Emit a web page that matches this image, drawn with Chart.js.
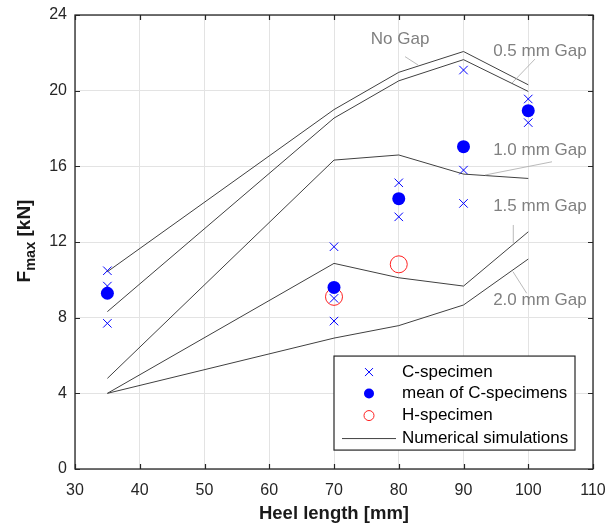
<!DOCTYPE html>
<html>
<head>
<meta charset="utf-8">
<script src="https://cdn.jsdelivr.net/npm/chart.js@4"></script>
<style>
  html, body { margin: 0; padding: 0; background: #fff; }
  #wrap { width: 616px; height: 526px; }
</style>
</head>
<body>
<div id="wrap"><canvas id="fmaxChart" width="616" height="526"></canvas></div>
<script>
// heel lengths used by the simulations
const simX = [35, 70, 80, 90, 100];
const simNoGap = [10.43, 19.0, 20.97, 22.07, 20.31];
const sim05 = [8.32, 18.55, 20.52, 21.64, 19.96];
const sim10 = [4.79, 16.33, 16.6, 15.59, 15.36];
const sim15 = [4.0, 10.87, 10.11, 9.67, 12.54];
const sim20 = [4.0, 6.92, 7.58, 8.67, 11.1];
const simLabels = ['No Gap', '0.5 mm Gap', '1.0 mm Gap', '1.5 mm Gap', '2.0 mm Gap'];

// C-specimen tests
const cX = [35, 35, 35, 70, 70, 70, 80, 80, 90, 90, 90, 100, 100];
const cY = [10.48, 9.67, 7.70, 11.75, 9.02, 7.82, 15.13, 13.33, 21.09, 15.80, 14.04, 19.56, 18.31];

// mean of C-specimens
const meanX = [35, 70, 80, 90, 100];
const meanY = [9.29, 9.6, 14.29, 17.04, 18.94];

// H-specimen tests
const hX = [70, 80];
const hY = [9.1, 10.82];

const xTicks = [30, 40, 50, 60, 70, 80, 90, 100, 110];
const yTicks = [0, 4, 8, 12, 16, 20, 24];

const BLUE = '#0000ff';
const RED = '#ff2020';
const LINE = '#404040';
const LABEL_GREY = '#808080';
const AXIS = '#262626';
const FONT = '"Liberation Sans", Arial, sans-serif';

const pts = (xs, ys) => xs.map((x, i) => ({ x: x, y: ys[i] }));

const simSets = [simNoGap, sim05, sim10, sim15, sim20].map((ys, i) => ({
  type: 'line',
  label: simLabels[i],
  data: pts(simX, ys),
  borderColor: LINE,
  borderWidth: 1,
  pointRadius: 0,
  fill: false,
  tension: 0
}));

// annotation labels + leader lines, in data coordinates
const gapNotes = [
  { text: 'No Gap', at: [80.2, 22.73], line: [[80.97, 21.8], [82.97, 21.36]] },
  { text: '0.5 mm Gap', at: [101.8, 22.06], line: [[101.04, 21.67], [97.49, 20.4]] },
  { text: '1.0 mm Gap', at: [101.8, 16.83], line: [[103.67, 16.24], [93.32, 15.54]] },
  { text: '1.5 mm Gap', at: [101.8, 13.87], line: [[97.69, 12.9], [97.69, 11.95]] },
  { text: '2.0 mm Gap', at: [101.8, 8.93], line: [[97.64, 10.43], [99.76, 9.29]] }
];

const decorPlugin = {
  id: 'decor',
  afterDatasetsDraw(chart) {
    const { ctx, chartArea: a, scales: { x, y } } = chart;
    ctx.save();

    // frame and inward ticks
    ctx.strokeStyle = AXIS;
    ctx.lineWidth = 1.3;
    ctx.strokeRect(a.left, a.top, a.right - a.left, a.bottom - a.top);
    ctx.lineWidth = 1.2;
    ctx.beginPath();
    xTicks.forEach(v => {
      const px = Math.round(x.getPixelForValue(v)) + 0.5;
      ctx.moveTo(px, a.bottom); ctx.lineTo(px, a.bottom - 5);
      ctx.moveTo(px, a.top); ctx.lineTo(px, a.top + 5);
    });
    yTicks.forEach(v => {
      const py = Math.round(y.getPixelForValue(v)) + 0.5;
      ctx.moveTo(a.left, py); ctx.lineTo(a.left + 5, py);
      ctx.moveTo(a.right, py); ctx.lineTo(a.right - 5, py);
    });
    ctx.stroke();

    // gap labels
    ctx.font = '17px ' + FONT;
    ctx.fillStyle = LABEL_GREY;
    ctx.textAlign = 'center';
    ctx.textBaseline = 'middle';
    ctx.strokeStyle = '#a8a8a8';
    ctx.lineWidth = 0.8;
    gapNotes.forEach(n => {
      ctx.fillText(n.text, x.getPixelForValue(n.at[0]), y.getPixelForValue(n.at[1]));
      ctx.beginPath();
      ctx.moveTo(x.getPixelForValue(n.line[0][0]), y.getPixelForValue(n.line[0][1]));
      ctx.lineTo(x.getPixelForValue(n.line[1][0]), y.getPixelForValue(n.line[1][1]));
      ctx.stroke();
    });

    // legend box
    const bx0 = x.getPixelForValue(70), bx1 = x.getPixelForValue(107.22);
    const by0 = y.getPixelForValue(5.97), by1 = y.getPixelForValue(1.0);
    ctx.fillStyle = '#fff';
    ctx.fillRect(bx0, by0, bx1 - bx0, by1 - by0);
    ctx.strokeStyle = AXIS;
    ctx.lineWidth = 1.2;
    ctx.strokeRect(bx0, by0, bx1 - bx0, by1 - by0);

    const mx = bx0 + 35, tx = bx0 + 68;
    const rows = [by0 + 16, by0 + 37.5, by0 + 59.5, by0 + 82.5];
    ctx.font = '17px ' + FONT;
    ctx.fillStyle = '#000';
    ctx.textAlign = 'left';
    ['C-specimen', 'mean of C-specimens', 'H-specimen', 'Numerical simulations']
      .forEach((t, i) => ctx.fillText(t, tx, rows[i]));

    ctx.strokeStyle = BLUE; ctx.lineWidth = 1;
    ctx.beginPath();
    ctx.moveTo(mx - 4, rows[0] - 4); ctx.lineTo(mx + 4, rows[0] + 4);
    ctx.moveTo(mx + 4, rows[0] - 4); ctx.lineTo(mx - 4, rows[0] + 4);
    ctx.stroke();
    ctx.fillStyle = BLUE;
    ctx.beginPath(); ctx.arc(mx, rows[1], 5, 0, Math.PI * 2); ctx.fill();
    ctx.strokeStyle = RED;
    ctx.beginPath(); ctx.arc(mx, rows[2], 5, 0, Math.PI * 2); ctx.stroke();
    ctx.strokeStyle = LINE;
    ctx.beginPath(); ctx.moveTo(bx0 + 8, rows[3]); ctx.lineTo(bx0 + 62, rows[3]); ctx.stroke();

    // axis titles
    ctx.fillStyle = '#1a1a1a';
    ctx.textAlign = 'center';
    ctx.textBaseline = 'middle';
    ctx.font = 'bold 18.5px ' + FONT;
    ctx.fillText('Heel length [mm]', (a.left + a.right) / 2, 514);

    ctx.translate(25, 241);
    ctx.rotate(-Math.PI / 2);
    const big = 'bold 19px ' + FONT;
    const small = 'bold 14.5px ' + FONT;
    ctx.font = big; const wF = ctx.measureText('F').width;
    const wK = ctx.measureText(' [kN]').width;
    ctx.font = small; const wM = ctx.measureText('max').width;
    let cx = -(wF + wM + wK) / 2;
    ctx.textAlign = 'left';
    ctx.font = big; ctx.fillText('F', cx, 0); cx += wF;
    ctx.font = small; ctx.fillText('max', cx, 6); cx += wM;
    ctx.font = big; ctx.fillText(' [kN]', cx, 0);
    ctx.restore();
  }
};

new Chart(document.getElementById('fmaxChart').getContext('2d'), {
  type: 'scatter',
  data: {
    datasets: [
      ...simSets,
      {
        label: 'C-specimen',
        data: pts(cX, cY),
        pointStyle: 'crossRot',
        pointRadius: 6,
        borderColor: BLUE,
        pointBorderColor: BLUE,
        borderWidth: 1
      },
      {
        label: 'mean of C-specimens',
        data: pts(meanX, meanY),
        pointStyle: 'circle',
        pointRadius: 6.5,
        backgroundColor: BLUE,
        borderColor: BLUE,
        borderWidth: 0
      },
      {
        label: 'H-specimen',
        data: pts(hX, hY),
        pointStyle: 'circle',
        pointRadius: 8.5,
        backgroundColor: 'rgba(0,0,0,0)',
        borderColor: RED,
        borderWidth: 1
      }
    ]
  },
  options: {
    responsive: false,
    animation: false,
    events: [],
    layout: { padding: { top: 15, right: 23, left: 0, bottom: 0 } },
    plugins: {
      legend: { display: false },
      tooltip: { enabled: false }
    },
    scales: {
      x: {
        type: 'linear',
        min: 30,
        max: 110,
        afterFit: s => { s.height = 57; s.paddingLeft = 0; s.paddingRight = 0; },
        afterBuildTicks: s => { s.ticks = xTicks.map(v => ({ value: v })); },
        grid: { color: '#e3e3e3', drawTicks: false },
        border: { display: false },
        ticks: {
          padding: 12,
          color: '#262626',
          font: { family: FONT, size: 16 }
        }
      },
      y: {
        type: 'linear',
        min: 0,
        max: 24,
        afterFit: s => { s.width = 75; s.paddingTop = 0; s.paddingBottom = 0; },
        afterBuildTicks: s => { s.ticks = yTicks.map(v => ({ value: v })); },
        grid: { color: '#e3e3e3', drawTicks: false },
        border: { display: false },
        ticks: {
          padding: 8,
          color: '#262626',
          font: { family: FONT, size: 16 }
        }
      }
    }
  },
  plugins: [decorPlugin]
});
</script>
</body>
</html>
